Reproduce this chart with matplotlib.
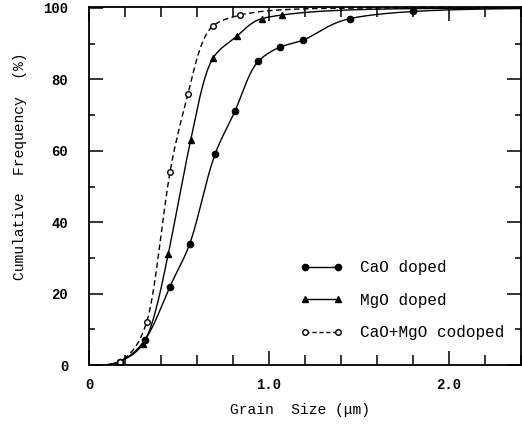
import math
import numpy as np
import matplotlib
matplotlib.use('Agg')
import matplotlib.pyplot as plt
from matplotlib.ticker import MultipleLocator

cao_x = [0.17, 0.31, 0.45, 0.56, 0.70, 0.81, 0.94, 1.06, 1.19, 1.45, 1.80]
cao_y = [1, 7, 22, 34, 59, 71, 85, 89, 91, 97, 99]

mgo_x = [0.17, 0.30, 0.44, 0.565, 0.69, 0.82, 0.96, 1.07]
mgo_y = [1, 6, 31, 63, 86, 92, 97, 98]

co_x = [0.17, 0.32, 0.45, 0.55, 0.69, 0.84]
co_y = [1, 12, 54, 76, 95, 98]

plt.rcParams['font.family'] = ['Liberation Mono', 'DejaVu Sans Mono']

erf = np.frompyfunc(math.erf, 1, 1)


def probit(p):
    # inverse of the normal cdf by bisection, p in percent
    lo, hi = -6.0, 6.0
    for _ in range(60):
        mid = 0.5 * (lo + hi)
        if 50 * (1 + math.erf(mid / math.sqrt(2))) < p:
            lo = mid
        else:
            hi = mid
    return 0.5 * (lo + hi)


def pchip(x, y, xs):
    h = np.diff(x)
    d = np.diff(y) / h
    n = len(x)
    m = np.zeros(n)
    for k in range(1, n - 1):
        if d[k - 1] * d[k] > 0:
            w1 = 2 * h[k] + h[k - 1]
            w2 = h[k] + 2 * h[k - 1]
            m[k] = (w1 + w2) / (w1 / d[k - 1] + w2 / d[k])
    m[0] = d[0]
    m[-1] = d[-1]
    idx = np.clip(np.searchsorted(x, xs) - 1, 0, n - 2)
    t = np.clip((xs - x[idx]) / h[idx], 0, 1)
    h00 = 2 * t**3 - 3 * t**2 + 1
    h10 = t**3 - 2 * t**2 + t
    h01 = -2 * t**3 + 3 * t**2
    h11 = t**3 - t**2
    out = h00 * y[idx] + h10 * h[idx] * m[idx] + h01 * y[idx + 1] + h11 * h[idx] * m[idx + 1]
    # straight continuation beyond the end points
    out = np.where(xs < x[0], y[0] + d[0] * (xs - x[0]), out)
    out = np.where(xs > x[-1], y[-1] + d[-1] * (xs - x[-1]), out)
    return out


def smooth(xp, yp):
    # smooth line through the points, drawn in log-size / probit space
    lx = np.log(np.asarray(xp, float))
    z = np.array([probit(v) for v in yp])
    xs = np.linspace(0.1, 2.4, 500)
    zs = pchip(lx, z, np.log(xs))
    return xs, 50.0 * (1.0 + erf(zs / math.sqrt(2)).astype(float))


fig = plt.figure(figsize=(5.22, 4.28), dpi=100)
ax = fig.add_axes([0.1705, 0.147, 0.8275, 0.837])

lw = 1.0
xs, ys = smooth(cao_x, cao_y)
ax.plot(xs, ys, color='black', lw=lw)
ax.plot(cao_x, cao_y, 'o', color='black', ms=4.5)

xs, ys = smooth(mgo_x, mgo_y)
ax.plot(xs, ys, color='black', lw=lw)
ax.plot(mgo_x, mgo_y, '^', color='black', ms=5)

xs, ys = smooth(co_x, co_y)
ax.plot(xs, ys, color='black', lw=lw, dashes=(4, 2.5))
ax.plot(co_x, co_y, 'o', mfc='white', mec='black', mew=1, ms=4)

# legend handles
ax.plot([], [], '-o', color='black', lw=lw, ms=4.5, label='CaO doped')
ax.plot([], [], '-^', color='black', lw=lw, ms=5, label='MgO doped')
ax.plot([], [], 'o', ls=(0, (3, 2)), color='black', lw=lw, mfc='white', mec='black', ms=4, label='CaO+MgO codoped')
handles, labels = ax.get_legend_handles_labels()
ax.legend(handles[-3:], labels[-3:], loc='upper left', bbox_to_anchor=(0.488, 0.293),
          frameon=False, numpoints=2, fontsize=11.5, handlelength=2.7, handletextpad=1.1,
          labelspacing=1.1, borderpad=0, borderaxespad=0)

ax.set_xlim(0, 2.4)
ax.set_ylim(0, 100.3)
ax.set_xticks([0, 1, 2])
ax.set_xticklabels(['0', '1.0', '2.0'])
ax.xaxis.set_minor_locator(MultipleLocator(0.2))
ax.set_yticks([0, 20, 40, 60, 80, 100])
ax.yaxis.set_minor_locator(MultipleLocator(10))
ax.tick_params(which='both', direction='in', top=True, right=True, width=1.1, labelsize=10)
ax.tick_params(which='major', length=10)
ax.tick_params(axis='x', which='major', pad=9)
ax.tick_params(axis='y', which='major', pad=15)
ax.tick_params(axis='x', which='minor', length=7)
ax.tick_params(axis='y', which='minor', length=4)
for lab in ax.get_xticklabels() + ax.get_yticklabels():
    lab.set_fontweight('bold')
for s in ax.spines.values():
    s.set_linewidth(1.3)

ax.set_xlabel('Grain  Size (\u03bcm)', fontsize=10.5)
ax.set_ylabel('Cumulative  Frequency  (%)', fontsize=10.5)
ax.xaxis.set_label_coords(0.488, -0.126)
ax.yaxis.set_label_coords(-0.160, 0.556)
ax.xaxis.label.set_va('center')
ax.yaxis.label.set_va('center')

fig.savefig('out.png', dpi=100)
